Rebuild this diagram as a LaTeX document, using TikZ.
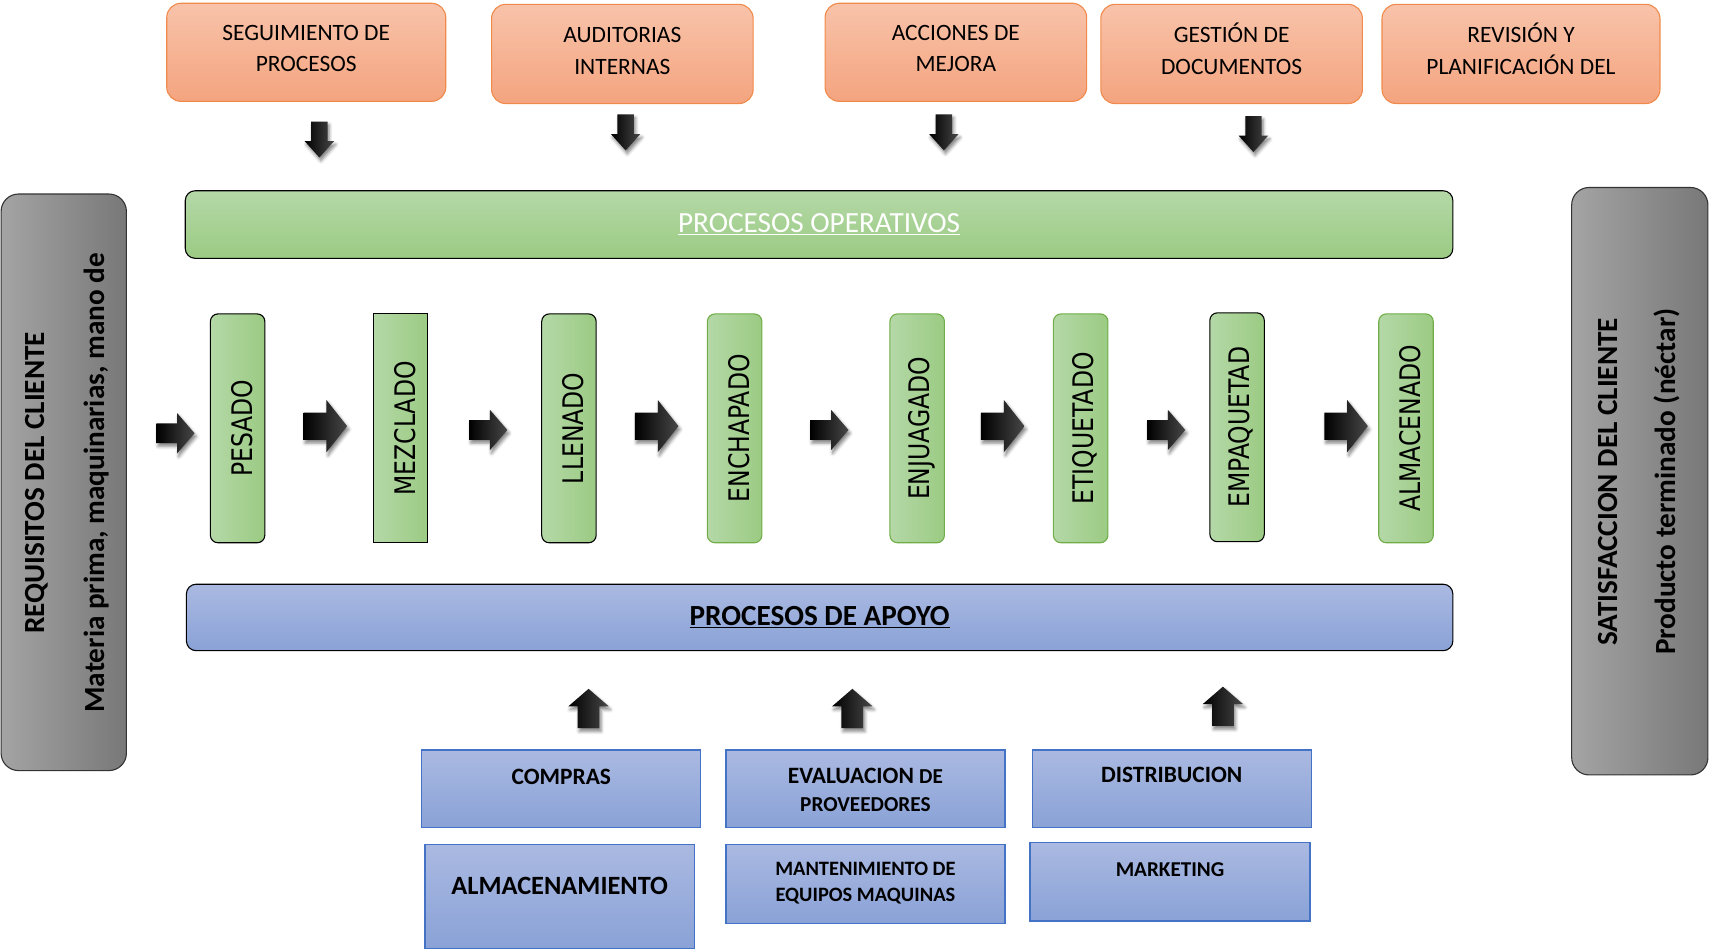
\documentclass[tikz,border=0pt]{standalone}
\usepackage{fontspec}
\setmainfont{Carlito}
\newfontfamily\procfont[FakeStretch=0.83]{DejaVu Sans}
\usetikzlibrary{shadows.blur}

\definecolor{orangeTop}{HTML}{F8C3AA}
\definecolor{orangeBot}{HTML}{F4A47F}
\definecolor{orangeLine}{HTML}{F08A4B}
\definecolor{greenTop}{HTML}{B4D8A7}
\definecolor{greenBot}{HTML}{9BCB83}
\definecolor{greenLine}{HTML}{70AD47}
\definecolor{blueTop}{HTML}{AAB9E1}
\definecolor{blueBot}{HTML}{8AA2D7}
\definecolor{blueLine}{HTML}{4472C4}
\definecolor{grayL}{HTML}{A4A4A4}
\definecolor{grayR}{HTML}{787878}

% block arrows: name, centre x, centre y, length, head width, shaft width, head length
\newcommand\flowright[7]{%
  \coordinate (#1) at (#2,#3);
  \path[flowarrow] ({#2-#4/2},{#3-#6/2}) -- ({#2+#4/2-#7},{#3-#6/2}) -- ({#2+#4/2-#7},{#3-#5/2})
    -- ({#2+#4/2},#3) -- ({#2+#4/2-#7},{#3+#5/2}) -- ({#2+#4/2-#7},{#3+#6/2}) -- ({#2-#4/2},{#3+#6/2}) -- cycle;}
\newcommand\flowdown[7]{%
  \coordinate (#1) at (#2,#3);
  \path[flowarrow] ({#2-#6/2},{#3-#4/2}) -- ({#2-#6/2},{#3+#4/2-#7}) -- ({#2-#5/2},{#3+#4/2-#7})
    -- (#2,{#3+#4/2}) -- ({#2+#5/2},{#3+#4/2-#7}) -- ({#2+#6/2},{#3+#4/2-#7}) -- ({#2+#6/2},{#3-#4/2}) -- cycle;}
\newcommand\flowup[7]{%
  \coordinate (#1) at (#2,#3);
  \path[flowarrow] ({#2-#6/2},{#3+#4/2}) -- ({#2-#6/2},{#3-#4/2+#7}) -- ({#2-#5/2},{#3-#4/2+#7})
    -- (#2,{#3-#4/2}) -- ({#2+#5/2},{#3-#4/2+#7}) -- ({#2+#6/2},{#3-#4/2+#7}) -- ({#2+#6/2},{#3+#4/2}) -- cycle;}

% upright process step label, read bottom to top
\newcommand\steplabel[1]{\rotatebox{90}{\rule{0pt}{27pt}#1}}

\begin{document}
\begin{tikzpicture}[x=1pt,y=-1pt,
  every node/.style={inner sep=0pt},
  topbox/.style={draw=orangeLine, line width=1pt, rounded corners=13pt, top color=orangeTop, bottom color=orangeBot},
  toptext/.style={align=center, font=\fontsize{21.5}{29}\selectfont},
  opbar/.style={draw=black, line width=1pt, rounded corners=9pt, top color=greenTop, bottom color=greenBot},
  apbar/.style={draw=black, line width=1pt, rounded corners=9pt, top color=blueTop, bottom color=blueBot},
  sidebox/.style={draw=black!80, line width=1pt, rounded corners=16pt, left color=grayL, right color=grayR},
  sidetext/.style={rotate=90, anchor=base, font=\bfseries\fontsize{26.8}{32}\selectfont},
  proc/.style={minimum width=50pt, minimum height=210pt, rounded corners=7pt, line width=1pt,
    left color=greenTop, right color=greenBot, font=\procfont\fontsize{26}{30}\selectfont},
  procdark/.style={proc, draw=black},
  proclight/.style={proc, draw=greenLine},
  supbox/.style={draw=blueLine, line width=1.2pt, top color=blueTop, bottom color=blueBot},
  suptext/.style={align=center, font=\bfseries\fontsize{21.5}{26}\selectfont},
  flowarrow/.style={left color=black, right color=black!72,
    blur shadow={shadow xshift=1.5pt, shadow yshift=-3pt, shadow blur radius=3pt, shadow opacity=50}},
]
\useasboundingbox (0,0) rectangle (1568,873);

% management processes
\node[topbox, minimum width=256pt, minimum height=90pt] (seg) at (281,48) {};
\node[toptext] (seg-t) at (281,44.5) {SEGUIMIENTO DE\\PROCESOS};
\node[topbox, minimum width=240pt, minimum height=91pt] (aud) at (571,49.5) {};
\node[toptext] (aud-t) at (571,46.5) {AUDITORIAS\\INTERNAS};
\node[topbox, minimum width=240pt, minimum height=90pt] (acc) at (877,48) {};
\node[toptext] (acc-t) at (877,44.5) {ACCIONES DE\\MEJORA};
\node[topbox, minimum width=240pt, minimum height=91pt] (ges) at (1130,49.5) {};
\node[toptext] (ges-t) at (1130,45) {GESTIÓN DE\\DOCUMENTOS};
\node[topbox, minimum width=255pt, minimum height=91pt] (rev) at (1395.5,49.5) {};
\node[toptext] (rev-t) at (1395.5,45) {REVISIÓN Y\\PLANIFICACIÓN DEL};

\flowdown{d1}{293}{128}{33}{27}{15}{15}
\flowdown{d2}{574}{121.5}{33}{27}{15}{15}
\flowdown{d3}{866}{121.5}{33}{27}{15}{15}
\flowdown{d4}{1150}{123}{33}{27}{15}{15}

% operative processes
\node[opbar, minimum width=1163pt, minimum height=62pt, font=\fontsize{26.8}{32}\selectfont, text=white]
  (oper) at (751.5,206) {\underline{PROCESOS OPERATIVOS}};

\node[procdark] (pesado) at (218,393) {\steplabel{PESADO}};
\node[procdark, rounded corners=0pt] (mezclado) at (367.5,393) {\steplabel{MEZCLADO}};
\node[procdark] (llenado) at (522,393) {\steplabel{LLENADO}};
\node[proclight] (enchapado) at (674,393) {\steplabel{ENCHAPADO}};
\node[proclight] (enjuagado) at (841.5,393) {\steplabel{ENJUAGADO}};
\node[proclight] (etiquetado) at (991.5,393) {\steplabel{ETIQUETADO}};
\node[procdark] (empaquetad) at (1135,392) {\steplabel{EMPAQUETAD}};
\node[proclight] (almacenado) at (1290,393) {\steplabel{ALMACENADO}};

\flowright{r1}{161}{397.5}{35}{37}{18}{16}
\flowright{r2}{298.5}{391}{40}{48}{25}{19}
\flowright{r3}{448}{394.5}{35}{37}{18}{16}
\flowright{r4}{602.5}{391}{40}{48}{25}{19}
\flowright{r5}{761}{394.5}{35}{37}{18}{16}
\flowright{r6}{920}{391}{40}{48}{25}{19}
\flowright{r7}{1070}{394.5}{35}{37}{18}{16}
\flowright{r8}{1235}{391}{40}{48}{25}{19}

% customer side panels
\node[sidebox, minimum width=115pt, minimum height=529pt] (req) at (58.5,442.5) {};
\node[sidetext] (req-a) at (41,443) {REQUISITOS DEL CLIENTE};
\node[sidetext] (req-b) at (96,443) {Materia prima, maquinarias, mano de};
\node[sidebox, minimum width=125pt, minimum height=539pt] (sat) at (1504.5,441.5) {};
\node[sidetext] (sat-a) at (1484,442) {SATISFACCION DEL CLIENTE};
\node[sidetext] (sat-b) at (1537,442) {Producto terminado (néctar)};

% support processes
\node[apbar, minimum width=1162pt, minimum height=61pt, font=\bfseries\fontsize{26.8}{32}\selectfont]
  (apoyo) at (752,566.5) {\underline{PROCESOS DE APOYO}};

\flowup{u1}{540}{650}{36}{37}{20}{16}
\flowup{u2}{782}{650}{36}{37}{20}{16}
\flowup{u3}{1122}{648}{36}{37}{20}{16}

\node[supbox, minimum width=256pt, minimum height=71pt] (compras) at (515,723.5) {};
\node[suptext] (compras-t) at (515,713) {COMPRAS};
\node[supbox, minimum width=256pt, minimum height=71pt] (evaluacion) at (794,723.5) {};
\node[suptext] (evaluacion-t) at (794,725)
  {EVALUACION {\fontsize{19.5}{26}\selectfont DE}\\{\fontsize{19.5}{26}\selectfont PROVEEDORES}};
\node[supbox, minimum width=256pt, minimum height=71pt] (distribucion) at (1075,723.5) {};
\node[suptext] (distribucion-t) at (1075,711) {DISTRIBUCION};

\node[supbox, minimum width=247pt, minimum height=95pt] (almacen) at (513.5,822.5) {};
\node[suptext, font=\bfseries\fontsize{24.2}{29}\selectfont] (almacen-t) at (513.5,813) {ALMACENAMIENTO};
\node[supbox, minimum width=256pt, minimum height=72pt] (mantenimiento) at (794,811) {};
\node[suptext, font=\bfseries\fontsize{18.75}{24}\selectfont] (mantenimiento-t) at (794,810)
  {MANTENIMIENTO DE\\EQUIPOS MAQUINAS};
\node[supbox, minimum width=257pt, minimum height=72pt] (marketing) at (1073.5,809) {};
\node[suptext, font=\bfseries\fontsize{19.4}{24}\selectfont] (marketing-t) at (1073.5,798) {MARKETING};
\end{tikzpicture}
\end{document}
